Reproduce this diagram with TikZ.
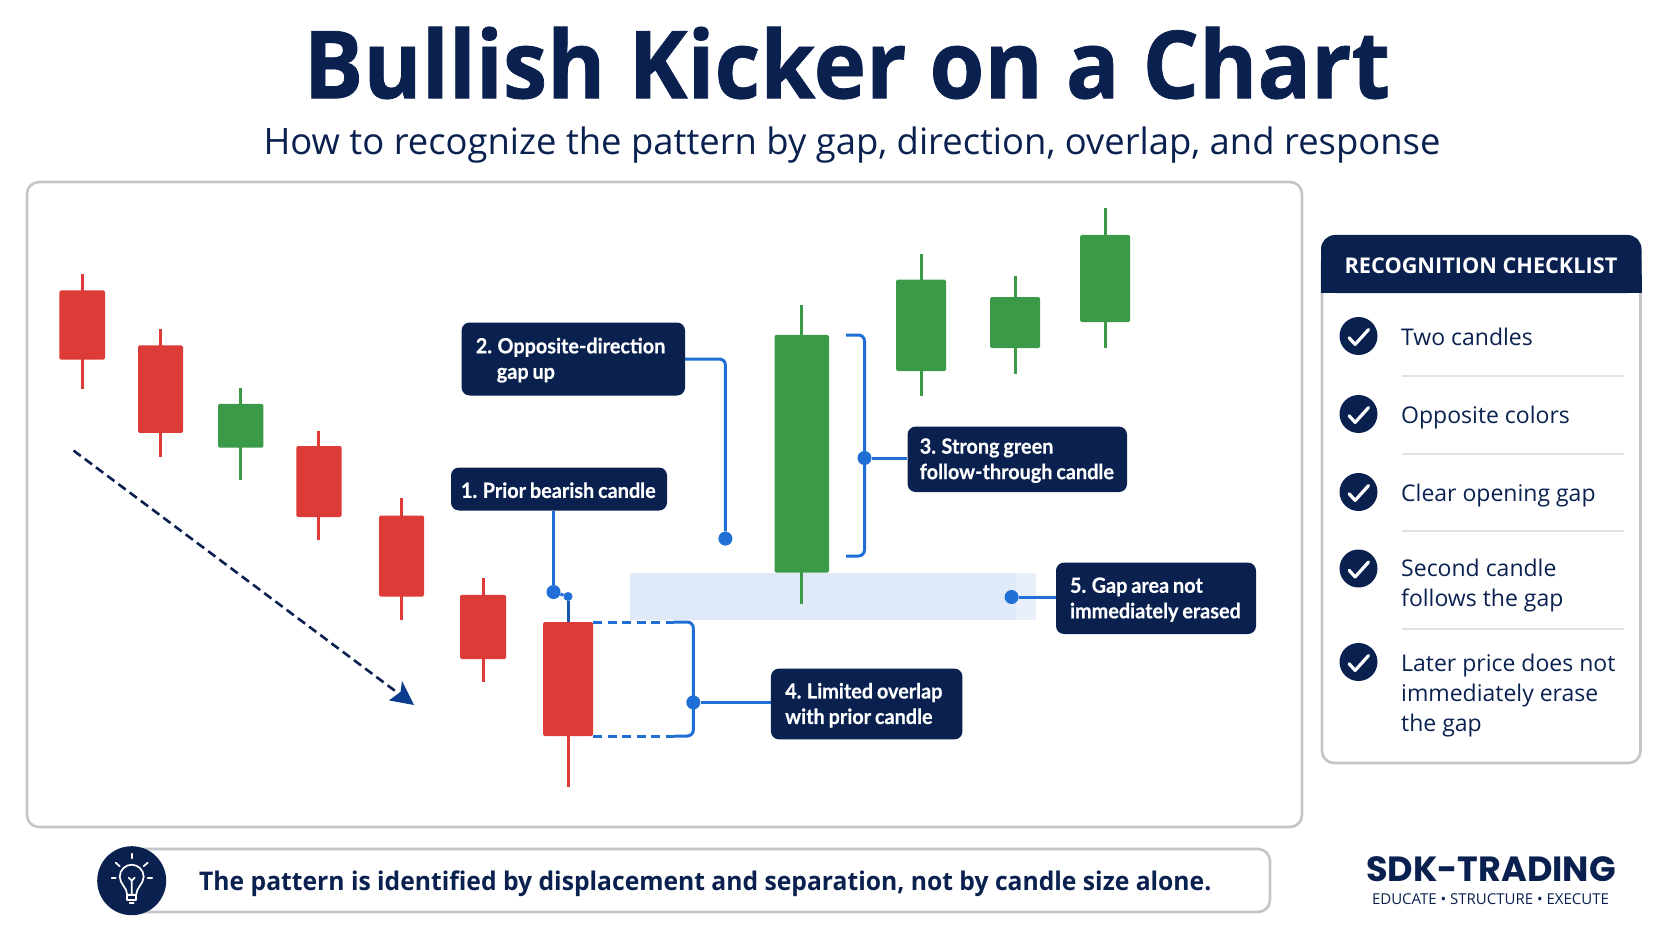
\documentclass[tikz,border=0pt]{standalone}
\usepackage{fontspec}
\setmainfont{Open Sans}
\newfontfamily\labfont[FakeStretch=0.945,WordSpace=0.8,FakeBold=0.4]{Lato}
\newfontfamily\titlefont[FakeStretch=0.945,FakeBold=0.8]{Open Sans}
\newfontfamily\notefont[FakeStretch=0.96]{Open Sans}
\newfontfamily\logofont{Poppins}
\usetikzlibrary{arrows.meta,calc}
\definecolor{navy}{HTML}{0A2150}
\definecolor{cred}{HTML}{DC3B37}
\definecolor{cgreen}{HTML}{3A9A48}
\definecolor{cblue}{HTML}{1F6FD6}
\definecolor{pborder}{HTML}{C2C5C9}
\definecolor{bandA}{HTML}{DFE9F8}
\definecolor{bandB}{HTML}{E9F0FA}
\definecolor{sepline}{HTML}{DFE2E6}
\definecolor{arrowtip}{HTML}{0B3D8C}
\tikzset{
  panelbox/.style={draw=pborder,line width=2.6pt,rounded corners=12pt,fill=white},
  lab/.style={fill=navy,text=white,rounded corners=8pt,inner sep=0pt,align=flush left,font=\labfont\bfseries\fontsize{21}{25.5}\selectfont,execute at begin node={\rule{0pt}{18pt}}},
  conn/.style={draw=cblue,line width=3pt,rounded corners=6pt},
  dashconn/.style={draw=cblue,line width=3pt,dash pattern=on 9pt off 5.5pt},
  dotmark/.style={circle,fill=cblue,inner sep=0pt,minimum size=14pt},
  chkdisc/.style={circle,fill=navy,inner sep=0pt,minimum size=38pt},
  chktext/.style={anchor=west,align=left,text=navy,inner sep=0pt,font=\fontsize{23}{30}\selectfont},
  sepr/.style={draw=sepline,line width=1.6pt},
  bulb/.style={draw=white,line width=1.7pt,line cap=round,line join=round},
}
% name, colour, left, right, top, bottom, wick top, wick bottom
\newcommand{\candlestick}[8]{%
  \coordinate (#1wt) at ({(#3+#4)/2},#7);
  \coordinate (#1wb) at ({(#3+#4)/2},#8);
  \draw[#2,line width=3pt] (#1wt) -- (#1wb);
  \node[fill=#2,rounded corners=1.5pt,inner sep=0pt,minimum width={(#4-#3)*1pt},minimum height={(#6-#5)*1pt}] (#1) at ({(#3+#4)/2},{(#5+#6)/2}) {};
}
\newcommand{\checkitem}[2]{%
  \node[chkdisc] (#1) at (1358.5,#2) {};
  \draw[white,line width=3.2pt,line cap=round,line join=round] ($(#1)+(-9.4,1.8)$) -- ($(#1)+(-3.4,8.4)$) -- ($(#1)+(10,-6.4)$);
}
\begin{document}
\begin{tikzpicture}[x=1pt,y=-1pt]
\useasboundingbox (0,0) rectangle (1672,941);
\fill[white] (0,0) rectangle (1672,941);

% title
\node[text=navy,inner sep=0pt,font=\titlefont\bfseries\fontsize{94}{100}\selectfont] (title) at (847,63) {Bullish Kicker on a Chart};
\node[text=navy,inner sep=0pt,font=\fontsize{36.4}{40}\selectfont] (subtitle) at (852,145) {How to recognize the pattern by gap, direction, overlap, and response};

% main panel
\draw[panelbox] (27,182) rectangle (1302,827);

% gap band
\fill[bandB] (630,572.7) rectangle (1036,620);
\fill[bandA] (630,572.7) rectangle (1016,620);

% trend arrow
\coordinate (trendA) at (73.6,450.6);
\coordinate (trendB) at (414,705);
\draw[navy,line width=2.6pt,dash pattern=on 9pt off 5pt] (trendA) -- ($(trendB)!18pt!(trendA)$);
\fill[arrowtip] (trendB) -- (402,681) -- (400.5,692) -- (389,700.4) -- cycle;

% candles
\candlestick{ca}{cred}{59.4}{105}{290.4}{359.7}{274}{388.7}
\candlestick{cb}{cred}{138}{183}{345.4}{432.8}{329}{457}
\candlestick{cc}{cgreen}{218}{263.4}{403.8}{447.6}{388}{480}
\candlestick{cd}{cred}{296.4}{341.5}{446}{517}{430.7}{540}
\candlestick{ce}{cred}{379}{424}{515.5}{596.5}{498}{620}
\candlestick{cf}{cred}{460}{506}{594.8}{659}{578}{682}
\candlestick{cg}{cred}{543}{593}{622}{736}{622}{787}
\candlestick{ch}{cgreen}{774.5}{829}{334.8}{572.7}{305}{604}
\candlestick{ci}{cgreen}{896}{946}{279.7}{371}{254}{395.5}
\candlestick{cj}{cgreen}{990}{1040}{297}{348}{275.5}{374}
\candlestick{ck}{cgreen}{1080}{1130}{235}{322}{208.5}{348}

% labels
\node[lab,minimum width=216pt,minimum height=43pt,text width=196pt,xshift=4pt] (b1) at (555,489) {1. Prior bearish candle};
\node[lab,minimum width=223.4pt,minimum height=73pt,text width=195pt] (b2) at (573.3,359) {2. Opposite-direction\\\hspace*{21pt}gap up};
\node[lab,minimum width=219.4pt,minimum height=65.4pt,text width=195pt] (b3) at (1017.3,459.3) {3. Strong green\\follow-through candle};
\node[lab,minimum width=191.5pt,minimum height=70.8pt,text width=163pt] (b4) at (866.7,704) {4. Limited overlap\\with prior candle};
\node[lab,minimum width=200pt,minimum height=71.4pt,text width=172pt] (b5) at (1156,598.3) {5. Gap area not\\immediately erased};

% connector 1
\node[dotmark] (d1) at (553.5,592) {};
\node[circle,fill=cblue,inner sep=0pt,minimum size=9pt] (d1b) at (568,596.5) {};
\draw[conn] (b1.south -| d1) -- (d1);
\draw[cblue,line width=3pt] (d1) -- (d1b);
\draw[cblue!70!navy,line width=3pt] (d1b) -- (cg.north -| d1b);

% connector 2
\node[dotmark] (d2) at (725.4,538.6) {};
\draw[conn] (b2.east) -| (d2);

% connector 3
\coordinate (br3a) at (846,335);
\coordinate (br3b) at (846,556);
\coordinate (br3r) at (864.5,445);
\draw[conn] (br3a) -| (br3r) |- (br3b);
\node[dotmark] (d3) at (864.5,458) {};
\draw[conn] (d3) -- (d3 -| b3.west);

% connector 4
\coordinate (br4a) at (593,622);
\coordinate (br4b) at (593,736);
\coordinate (br4c) at (674,622);
\coordinate (br4d) at (674,736);
\coordinate (br4r) at (693.3,680);
\draw[dashconn] (br4a) -- (br4c);
\draw[dashconn] (br4b) -- (br4d);
\draw[conn] (br4c) -| (br4r) |- (br4d);
\node[dotmark] (d4) at (693.3,702.4) {};
\draw[conn] (d4) -- (d4 -| b4.west);

% connector 5
\node[dotmark] (d5) at (1011.6,597) {};
\draw[conn] (d5) -- (d5 -| b5.west);

% checklist
\draw[panelbox] (1322,250) rectangle (1640.5,763);
\fill[navy,rounded corners=14pt] (1321,293) -- (1321,235) -- (1641.5,235) -- (1641.5,293) -- cycle;
\fill[navy] (1321,275) rectangle (1641.5,293);
\node[text=white,inner sep=0pt,font=\bfseries\fontsize{21.7}{24}\selectfont] (chkhead) at (1481,266) {RECOGNITION CHECKLIST};

\checkitem{k1}{336}
\checkitem{k2}{414}
\checkitem{k3}{492}
\checkitem{k4}{568.5}
\checkitem{k5}{662}
\node[chktext] (t1) at (1401,337) {Two candles};
\node[chktext] (t2) at (1401,417.5) {Opposite colors};
\node[chktext] (t3) at (1401,495.5) {Clear opening gap};
\node[chktext] (t4) at (1401,585.5) {Second candle\\follows the gap};
\node[chktext] (t5) at (1401,696) {Later price does not\\immediately erase\\the gap};
\draw[sepr] (1402,376) -- (1624,376);
\draw[sepr] (1402,454) -- (1624,454);
\draw[sepr] (1402,531) -- (1624,531);
\draw[sepr] (1402,629) -- (1624,629);

% bottom bar
\draw[panelbox] (131,849) rectangle (1270,912);
\node[circle,fill=navy,inner sep=0pt,minimum size=69pt] (lamp) at (131.7,880.7) {};
\begin{scope}[shift={(lamp)}]
  \draw[bulb] (-4.5,14) .. controls (-4.5,7) and (-12,3) .. (-12,-4) .. controls (-12,-11) and (-6,-16) .. (0,-16) .. controls (6,-16) and (12,-11) .. (12,-4) .. controls (12,3) and (4.5,7) .. (4.5,14) -- cycle;
  \draw[bulb] (-4.5,14) rectangle (4.5,19);
  \draw[bulb] (-2,22) -- (2,22);
  \draw[bulb] (0,14) -- (0,0) (-3,-3) -- (0,0) -- (3,-3);
  \draw[bulb] (0,-22.5) -- (0,-27);
  \draw[bulb] (-16,-18) -- (-12,-14.5);
  \draw[bulb] (16,-18) -- (12,-14.5);
  \draw[bulb] (-20,-2.5) -- (-16,-2.5);
  \draw[bulb] (16,-2.5) -- (20.5,-2.5);
\end{scope}
\node[anchor=west,text=navy,inner sep=0pt,font=\notefont\bfseries\fontsize{25.7}{30}\selectfont] (takeaway) at (199,884) {The pattern is identified by displacement and separation, not by candle size alone.};

% logo
\node[text=navy,inner sep=0pt,font=\logofont\bfseries\fontsize{35}{38}\selectfont] (logo) at (1491,869.5) {SDK-TRADING};
\node[text=navy,inner sep=0pt,font=\fontsize{15}{18}\selectfont] (tag) at (1490.5,899.5) {EDUCATE • STRUCTURE • EXECUTE};
\end{tikzpicture}
\end{document}
